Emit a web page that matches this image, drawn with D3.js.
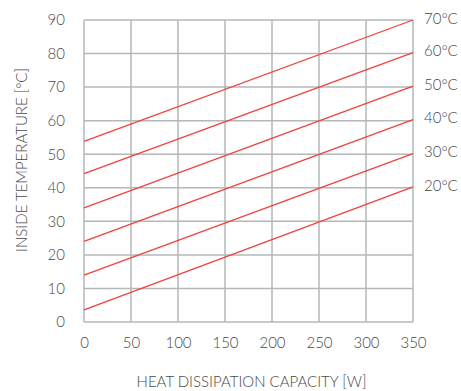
<!DOCTYPE html>
<html>
<head>
<meta charset="utf-8">
<script src="https://cdn.jsdelivr.net/npm/d3@7"></script>
<style>
  body { margin: 0; background: #fff; }
  text { font-family: "Lato", "Open Sans", sans-serif; font-weight: 300; fill: #484848; }
</style>
</head>
<body>
<svg id="chart" width="461" height="391"></svg>
<script>
// outside temperature curves: inside temperature at 0 W and at 350 W
var labels = ["20°C", "30°C", "40°C", "50°C", "60°C", "70°C"],
    startVals = [3.6, 14, 24, 34, 44.2, 53.8],
    endVals = [40.3, 50.2, 60.3, 70.3, 80.3, 90];

var xTicks = [0, 50, 100, 150, 200, 250, 300, 350],
    yTicks = [0, 10, 20, 30, 40, 50, 60, 70, 80, 90];

var margin = { left: 84, right: 48, top: 20, bottom: 69 },
    width = 461 - margin.left - margin.right,
    height = 391 - margin.top - margin.bottom;

var svg = d3.select("#chart");
var g = svg.append("g").attr("transform", "translate(" + margin.left + "," + margin.top + ")");

var x = d3.scaleLinear().domain([0, 350]).range([0, width]);
var y = d3.scaleLinear().domain([0, 90]).range([height, 0]);

// grid
g.selectAll(".vgrid").data(xTicks).enter().append("line")
    .attr("x1", d => x(d)).attr("x2", d => x(d))
    .attr("y1", 0).attr("y2", height)
    .attr("stroke", "#b4b8b8").attr("stroke-width", 1.5);
g.selectAll(".hgrid").data(yTicks).enter().append("line")
    .attr("x1", 0).attr("x2", width)
    .attr("y1", d => y(d)).attr("y2", d => y(d))
    .attr("stroke", "#b4b8b8").attr("stroke-width", 1.5);

// axes (labels only)
var xAxis = g.append("g").attr("transform", "translate(0," + height + ")")
    .call(d3.axisBottom(x).tickValues(xTicks).tickSize(0).tickPadding(15));
var yAxis = g.append("g")
    .call(d3.axisLeft(y).tickValues(yTicks).tickSize(0).tickPadding(19));
[xAxis, yAxis].forEach(function (a) {
    a.select(".domain").remove();
    a.selectAll("text").style("font-size", "15px").attr("fill", "#484848")
        .style("font-family", "Lato, sans-serif").style("font-weight", 300);
});

// lines
var lineData = labels.map((l, i) => ({ label: l, pts: [[0, startVals[i]], [350, endVals[i]]] }));
var line = d3.line().x(d => x(d[0])).y(d => y(d[1]));
g.selectAll(".curve").data(lineData).enter().append("path")
    .attr("d", d => line(d.pts))
    .attr("fill", "none").attr("stroke", "#f0413f").attr("stroke-width", 1.3);

g.selectAll(".lbl").data(lineData).enter().append("text")
    .attr("x", width + 11)
    .attr("y", d => y(d.pts[1][1]))
    .attr("dy", "0.25em")
    .style("font-size", "15px")
    .text(d => d.label);

// titles
svg.append("text")
    .attr("x", margin.left + width / 2 + 3).attr("y", 387)
    .attr("text-anchor", "middle").style("font-size", "15px")
    .text("HEAT DISSIPATION CAPACITY [W]");
svg.append("text")
    .attr("transform", "translate(27," + (margin.top + height / 2 - 11) + ") rotate(-90)")
    .attr("text-anchor", "middle").style("font-size", "15px")
    .text("INSIDE TEMPERATURE [°C]");
</script>
</body>
</html>
